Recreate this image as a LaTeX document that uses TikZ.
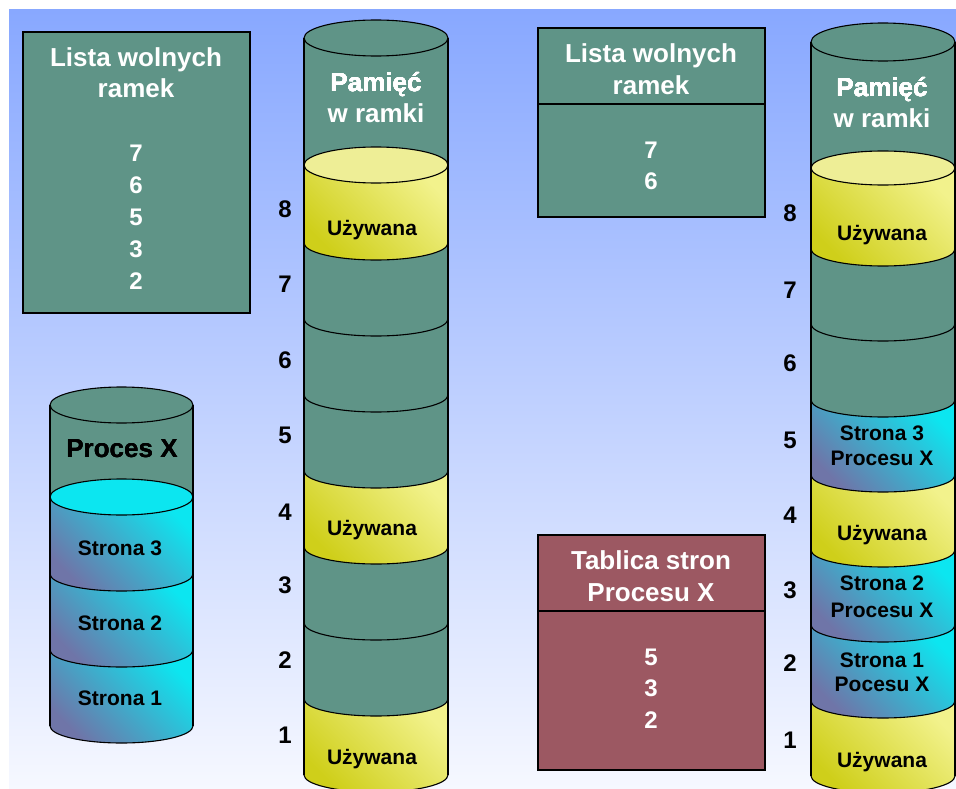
\documentclass[tikz,border=0pt]{standalone}
\usepackage{fontspec}
\setmainfont{Liberation Sans}
\definecolor{bgT}{HTML}{88A8FF}
\definecolor{bgB}{HTML}{F6F8FF}
\definecolor{tealc}{HTML}{5F9487}
\definecolor{yelL}{HTML}{F2F28C}
\definecolor{yelD}{HTML}{CFCF1A}
\definecolor{yelTop}{HTML}{EEEE96}
\definecolor{cyL}{HTML}{0CE6F0}
\definecolor{cyD}{HTML}{7A68A0}
\definecolor{rosec}{HTML}{9C5862}
\newcommand\cylband[6]{% cx rx ytop ybot ry style
  \path[#6] ({#1-#2},#3) -- ({#1-#2},#4) arc[start angle=180,end angle=0,x radius=#2,y radius=#5] -- ({#1+#2},#3) -- cycle;}
\newcommand\frontarc[4]{% cx rx y ry
  \draw[outl] ({#1-#2},#3) arc[start angle=180,end angle=0,x radius=#2,y radius=#4];}
\begin{document}
\begin{tikzpicture}[x=1pt,y=-1pt,
  outl/.style={draw=black,line width=1.1pt},
  tealfill/.style={fill=tealc},
  yelfill/.style={top color=yelL,middle color=yelL!75!yelD,bottom color=yelD,shading angle=-45},
  cyfill/.style={top color=cyL,middle color=cyL!88!cyD,bottom color=cyD!90!cyL,shading angle=-45},
  boxt/.style={draw=black,line width=1.1pt,fill=tealc,anchor=north west,inner sep=0,outer sep=0},
  boxr/.style={draw=black,line width=1.1pt,fill=rosec,anchor=north west,inner sep=0,outer sep=0},
  wt/.style={text=white,font=\bfseries\fontsize{26}{31}\selectfont,inner sep=0,text height=18.6pt,text depth=0pt},
  wn/.style={text=white,font=\bfseries\fontsize{24}{28}\selectfont,inner sep=0,text height=17.2pt,text depth=0pt},
  bt/.style={text=black,font=\bfseries\fontsize{26}{31}\selectfont,inner sep=0,text height=18.6pt,text depth=0pt},
  bl/.style={text=black,font=\bfseries\fontsize{21}{25}\selectfont,inner sep=0,text height=15pt,text depth=0pt},
  num/.style={text=black,font=\bfseries\fontsize{24}{28}\selectfont,inner sep=0,text height=17.2pt,text depth=0pt}]
\useasboundingbox (0,0) rectangle (956,789);
\fill[white] (0,0) rectangle (956,789);
\shade[top color=bgT,bottom color=bgB] (9,10) rectangle (956,789);

% ---- left list of free frames
\node[boxt,minimum width=227pt,minimum height=281pt] (listL) at (23,32) {};
\node[wt] (listLa) at (136,57) {Lista wolnych};
\node[wt] (listLb) at (136,88) {ramek};
\foreach \v/\y in {7/153,6/185,5/217,3/249,2/281}
  \node[wn] (listL\v) at (136,\y) {\v};

% ---- right list of free frames
\node[boxt,minimum width=227pt,minimum height=189pt] (listR) at (538,28) {};
\draw[outl] (538,104) -- (765,104);
\node[wt] (listRa) at (651,53) {Lista wolnych};
\node[wt] (listRb) at (651,85) {ramek};
\node[wn] (listR7) at (651,150) {7};
\node[wn] (listR6) at (651,181) {6};

% ---- page table
\node[boxr,minimum width=227pt,minimum height=235pt] (tab) at (538,535) {};
\draw[outl] (538,611) -- (765,611);
\node[wt] (taba) at (651,560) {Tablica stron};
\node[wt] (tabb) at (651,592) {Procesu X};
\foreach \v/\y in {5/657,3/688,2/720}
  \node[wn] (tab\v) at (651,\y) {\v};

% ---- middle memory cylinder
\def\cx{376}\def\rx{72}\def\ry{17}
\cylband{\cx}{\rx}{699}{775}{\ry}{yelfill}
\cylband{\cx}{\rx}{623}{699}{\ry}{tealfill}
\cylband{\cx}{\rx}{547}{623}{\ry}{tealfill}
\cylband{\cx}{\rx}{471}{547}{\ry}{yelfill}
\cylband{\cx}{\rx}{395}{471}{\ry}{tealfill}
\cylband{\cx}{\rx}{319}{395}{\ry}{tealfill}
\cylband{\cx}{\rx}{243}{319}{\ry}{tealfill}
\cylband{\cx}{\rx}{165}{243}{\ry}{yelfill}
\cylband{\cx}{\rx}{38}{165}{\ry}{tealfill}
\draw[outl,fill=yelTop] (\cx,165) ellipse[x radius=\rx,y radius=18];
\draw[outl,fill=tealc] (\cx,38) ellipse[x radius=\rx,y radius=18];
\draw[outl] (304,38) -- (304,775) (448,38) -- (448,775);
\foreach \y in {243,319,395,471,547,623,699,775} \frontarc{\cx}{\rx}{\y}{\ry}
\node[wt] (memA1) at (376,82) {Pamięć};
\node[wt] (memA2) at (376,113) {w ramki};
\node[bl] (memAu8) at (372,228) {Używana};
\node[bl] (memAu4) at (372,528) {Używana};
\node[bl] (memAu1) at (372,757) {Używana};
\foreach \v/\y in {8/209,7/284,6/360,5/435,4/512,3/585,2/660,1/735}
  \node[num] (labA\v) at (285,\y) {\v};

% ---- process X cylinder
\def\cx{121.5}\def\rx{71.5}
\cylband{\cx}{\rx}{650}{726}{\ry}{cyfill}
\cylband{\cx}{\rx}{574}{650}{\ry}{cyfill}
\cylband{\cx}{\rx}{497}{574}{\ry}{cyfill}
\cylband{\cx}{\rx}{405}{497}{\ry}{tealfill}
\draw[outl,fill=cyL] (\cx,497) ellipse[x radius=\rx,y radius=18];
\draw[outl,fill=tealc] (\cx,405) ellipse[x radius=\rx,y radius=18];
\draw[outl] (50,405) -- (50,726) (193,405) -- (193,726);
\foreach \y in {574,650,726} \frontarc{\cx}{\rx}{\y}{\ry}
\node[bt] (procX) at (122,448) {Proces X};
\node[bl] (str3) at (120,548) {Strona 3};
\node[bl] (str2) at (120,623) {Strona 2};
\node[bl] (str1) at (120,698) {Strona 1};

% ---- right memory cylinder
\def\cx{883}\def\rx{72}
\cylband{\cx}{\rx}{701}{776}{\ry}{yelfill}
\cylband{\cx}{\rx}{625}{701}{\ry}{cyfill}
\cylband{\cx}{\rx}{550}{625}{\ry}{cyfill}
\cylband{\cx}{\rx}{475}{550}{\ry}{yelfill}
\cylband{\cx}{\rx}{400}{475}{\ry}{cyfill}
\cylband{\cx}{\rx}{324}{400}{\ry}{tealfill}
\cylband{\cx}{\rx}{249}{324}{\ry}{tealfill}
\cylband{\cx}{\rx}{168}{249}{\ry}{yelfill}
\cylband{\cx}{\rx}{42}{168}{\ry}{tealfill}
\draw[outl,fill=yelTop] (\cx,168) ellipse[x radius=\rx,y radius=17];
\draw[outl,fill=tealc] (\cx,42) ellipse[x radius=\rx,y radius=19];
\draw[outl] (811,42) -- (811,776) (955,42) -- (955,776);
\foreach \y in {249,324,400,475,550,625,701,776} \frontarc{\cx}{\rx}{\y}{\ry}
\node[wt] (memB1) at (882,87) {Pamięć};
\node[wt] (memB2) at (882,118) {w ramki};
\node[bl] (memBu8) at (882,233) {Używana};
\node[bl] (memBu4) at (882,533) {Używana};
\node[bl] (memBu1) at (882,760) {Używana};
\node[bl] (memB5a) at (882,433) {Strona 3};
\node[bl] (memB5b) at (882,458) {Procesu X};
\node[bl] (memB3a) at (882,583) {Strona 2};
\node[bl] (memB3b) at (882,610) {Procesu X};
\node[bl] (memB2a) at (882,660) {Strona 1};
\node[bl] (memB2b) at (882,684) {Pocesu X};
\foreach \v/\y in {8/213,7/290,6/363,5/440,4/515,3/590,2/663,1/740}
  \node[num] (labB\v) at (790,\y) {\v};
\end{tikzpicture}
\end{document}
